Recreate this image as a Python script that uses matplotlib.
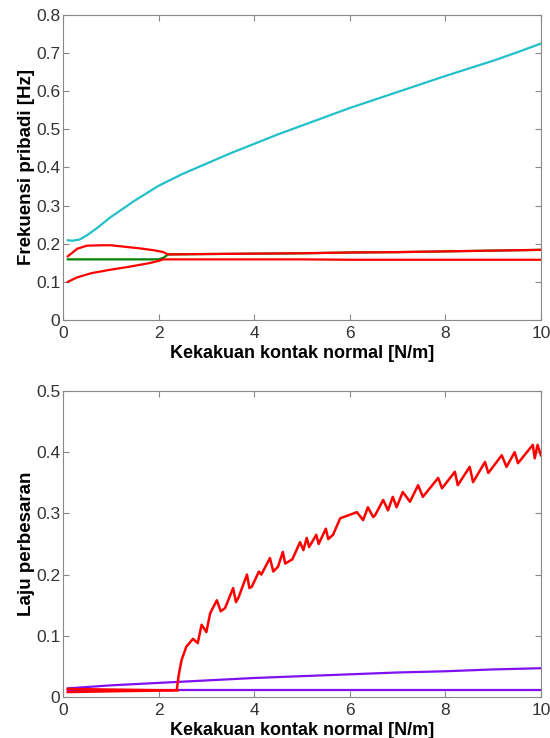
import matplotlib
matplotlib.use('Agg')
import matplotlib.pyplot as plt

plt.rcParams['font.family'] = ['Liberation Sans', 'DejaVu Sans']

# ---- frekuensi pribadi (atas) ----
x_cyan = [0.1, 0.2, 0.35, 0.5, 0.7, 1.0, 1.5, 2.0, 2.5, 3.0, 3.5, 4.0, 4.5, 5.0,
          5.5, 6.0, 6.5, 7.0, 7.5, 8.0, 8.5, 9.0, 9.5, 10.0]
y_cyan = [0.209, 0.208, 0.211, 0.222, 0.24, 0.27, 0.313, 0.352, 0.383, 0.41, 0.437,
          0.462, 0.487, 0.51, 0.533, 0.556, 0.577, 0.598, 0.619, 0.64, 0.66, 0.68,
          0.702, 0.725]

x_red_up = [0.1, 0.3, 0.5, 0.8, 1.0, 1.3, 1.6, 1.9, 2.1, 2.2, 3.0, 4.0, 5.0, 6.0,
            7.0, 8.0, 9.0, 10.0]
y_red_up = [0.167, 0.187, 0.195, 0.196, 0.196, 0.192, 0.188, 0.183, 0.178, 0.172,
            0.173, 0.174, 0.175, 0.177, 0.178, 0.18, 0.182, 0.184]

x_red_lo = [0.1, 0.3, 0.6, 1.0, 1.4, 1.8, 2.0, 2.1, 3.0, 4.0, 5.0, 6.0, 7.0, 8.0,
            9.0, 10.0]
y_red_lo = [0.1, 0.112, 0.123, 0.132, 0.14, 0.149, 0.155, 0.159, 0.159, 0.159,
            0.159, 0.158, 0.158, 0.158, 0.158, 0.158]

x_green = [0.1, 1.0, 2.0, 2.1, 2.2, 3.0, 4.0, 5.0, 6.0, 7.0, 8.0, 9.0, 10.0]
y_green = [0.159, 0.159, 0.159, 0.163, 0.172, 0.173, 0.174, 0.175, 0.177, 0.178,
           0.18, 0.182, 0.184]

# ---- laju perbesaran (bawah) ----
x_gr_a = [0.1, 0.8, 1.6, 2.4]
y_gr_a = [0.008, 0.009, 0.01, 0.011]

x_gr_b = [0.1, 1.0, 2.0, 2.38, 2.42, 2.48, 2.58, 2.72, 2.82, 2.9, 3.0, 3.08, 3.22,
          3.3, 3.39, 3.56, 3.62, 3.67, 3.85, 3.9, 3.95, 4.1, 4.15, 4.33, 4.4, 4.5,
          4.6, 4.65, 4.8, 4.96, 5.03, 5.1, 5.15, 5.3, 5.35, 5.5, 5.55, 5.65, 5.8,
          6.15, 6.28, 6.38, 6.49, 6.53, 6.7, 6.8, 6.9, 6.98, 7.11, 7.26, 7.43,
          7.53, 7.85, 7.93, 8.2, 8.26, 8.51, 8.58, 8.83, 8.9, 9.18, 9.28, 9.45,
          9.52, 9.83, 9.87, 9.93, 10.0]
y_gr_b = [0.013, 0.012, 0.011, 0.011, 0.035, 0.06, 0.082, 0.095, 0.088, 0.118,
          0.106, 0.137, 0.158, 0.14, 0.145, 0.178, 0.155, 0.162, 0.2, 0.178, 0.18,
          0.205, 0.2, 0.227, 0.205, 0.213, 0.237, 0.218, 0.225, 0.253, 0.24, 0.26,
          0.245, 0.265, 0.25, 0.275, 0.258, 0.265, 0.292, 0.302, 0.289, 0.31, 0.294,
          0.297, 0.322, 0.305, 0.327, 0.31, 0.335, 0.319, 0.346, 0.327, 0.358,
          0.341, 0.368, 0.346, 0.376, 0.351, 0.384, 0.366, 0.395, 0.376, 0.4, 0.382,
          0.412, 0.39, 0.412, 0.395]

x_pu_rise = [0.1, 1.0, 2.0, 3.0, 4.0, 5.0, 6.0, 7.0, 8.0, 9.0, 10.0]
y_pu_rise = [0.014, 0.019, 0.023, 0.027, 0.031, 0.034, 0.037, 0.04, 0.042, 0.045,
             0.047]
x_pu_flat = [0.1, 10.0]
y_pu_flat = [0.011, 0.011]

fig = plt.figure(figsize=(5.5, 7.38), dpi=100)
ax1 = fig.add_axes([0.1145, 0.5664, 0.869, 0.4133])
ax2 = fig.add_axes([0.1145, 0.0556, 0.869, 0.4146])

ax1.plot(x_cyan, y_cyan, color='#22c0c8', lw=1.6)
ax1.plot(x_green, y_green, color='#008000', lw=1.6)
ax1.plot(x_red_up, y_red_up, color='#ff0000', lw=1.6)
ax1.plot(x_red_lo, y_red_lo, color='#ff0000', lw=1.6)
ax1.set_xlim(0, 10)
ax1.set_ylim(0, 0.8)
ax1.set_yticks([0, 0.1, 0.2, 0.3, 0.4, 0.5, 0.6, 0.7, 0.8])
ax1.set_yticklabels(['0', '0.1', '0.2', '0.3', '0.4', '0.5', '0.6', '0.7', '0.8'])
ax1.set_ylabel('Frekuensi pribadi [Hz]', fontsize=13.5, fontweight='bold',
               labelpad=1)

ax2.plot(x_pu_rise, y_pu_rise, color='#8010f0', lw=1.6)
ax2.plot(x_pu_flat, y_pu_flat, color='#8010f0', lw=1.6)
ax2.plot(x_gr_a, y_gr_a, color='#ff0000', lw=1.8)
ax2.plot(x_gr_b, y_gr_b, color='#ff0000', lw=1.8)
ax2.set_xlim(0, 10)
ax2.set_ylim(0, 0.5)
ax2.set_yticks([0, 0.1, 0.2, 0.3, 0.4, 0.5])
ax2.set_yticklabels(['0', '0.1', '0.2', '0.3', '0.4', '0.5'])
ax2.set_ylabel('Laju perbesaran', fontsize=13.5, fontweight='bold', labelpad=1)

for ax in (ax1, ax2):
    ax.set_xticks([0, 2, 4, 6, 8, 10])
    ax.set_xticklabels(['0', '2', '4', '6', '8', '10'])
    ax.set_xlabel('Kekakuan kontak normal [N/m]', fontsize=13, fontweight='bold',
                  labelpad=3)
    ax.tick_params(direction='in', length=4, width=0.8, colors='#888888',
                   labelcolor='#333333', labelsize=12.5, top=True, right=True,
                   pad=2)
    ax.tick_params(axis='x', pad=4)
    for s in ax.spines.values():
        s.set_color('#888888')
        s.set_linewidth(0.8)

fig.savefig('out.png', dpi=100)
